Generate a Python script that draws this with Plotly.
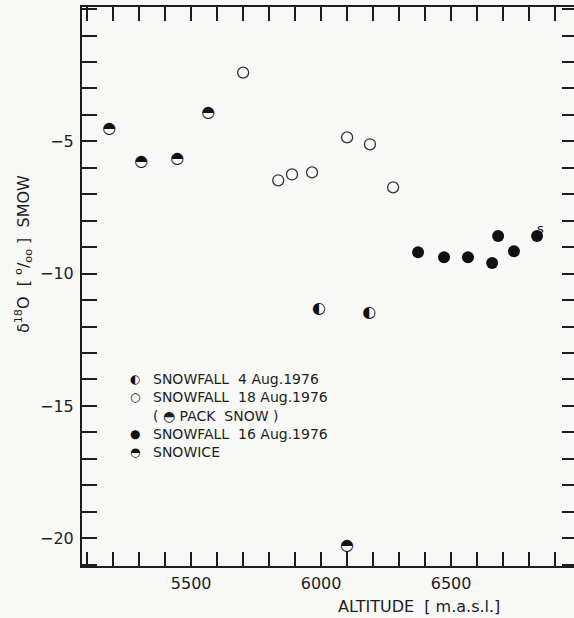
import plotly.graph_objects as go

# ---- data ----
pack_snow_alt = [5185, 5308, 5446, 5566]
pack_snow_d18o = [-4.55, -5.79, -5.65, -3.94]

aug18_alt = [5700, 5835, 5888, 5965, 6100, 6188, 6277]
aug18_d18o = [-2.4, -6.47, -6.25, -6.17, -4.85, -5.11, -6.74]

aug4_alt = [5992, 6185]
aug4_d18o = [-11.34, -11.49]

aug16_alt = [6373, 6473, 6565, 6658, 6681, 6742, 6831]
aug16_d18o = [-9.19, -9.38, -9.38, -9.6, -8.58, -9.15, -8.58]
aug16_mark_label = "s"   # label on the highest-altitude 16 Aug sample

snowice_alt = [6100]
snowice_d18o = [-20.3]

legend_symbols = ["◐", "○", "", "●", "◓"]
legend_texts = ["SNOWFALL  4 Aug.1976", "SNOWFALL  18 Aug.1976",
                "( ◓ PACK  SNOW )", "SNOWFALL  16 Aug.1976", "SNOWICE"]

FONT = "DejaVu Sans"
INK = "#1e1e1e"
BG = "#f8f9f7"

fig = go.Figure()

fig.add_trace(go.Scatter(x=aug18_alt, y=aug18_d18o, mode="markers",
                         marker=dict(symbol="circle-open", size=11, color="#333",
                                     line=dict(width=1.3, color="#333")),
                         hoverinfo="skip", showlegend=False))
fig.add_trace(go.Scatter(x=aug16_alt, y=aug16_d18o, mode="markers",
                         marker=dict(symbol="circle", size=12, color="#111"),
                         hoverinfo="skip", showlegend=False))
fig.add_trace(go.Scatter(x=aug16_alt[-1:], y=aug16_d18o[-1:], mode="text",
                         text=[aug16_mark_label], textposition="top right",
                         textfont=dict(family=FONT, size=13, color="#111"),
                         hoverinfo="skip", showlegend=False))
for xs, ys, glyph in [(pack_snow_alt, pack_snow_d18o, "◓"),
                      (snowice_alt, snowice_d18o, "◓"),
                      (aug4_alt, aug4_d18o, "◐")]:
    fig.add_trace(go.Scatter(x=xs, y=ys, mode="text", text=[glyph] * len(xs),
                             textposition="middle center",
                             textfont=dict(family=FONT, size=16, color="#111"),
                             hoverinfo="skip", showlegend=False))
# right-hand tick axis carrier (invisible)
fig.add_trace(go.Scatter(x=aug16_alt, y=aug16_d18o, mode="markers", yaxis="y2",
                         marker=dict(opacity=0), hoverinfo="skip", showlegend=False))

yr = [-21.05, 0.08]
fig.update_layout(
    width=574, height=618,
    margin=dict(l=82, r=0, t=7, b=52),
    paper_bgcolor=BG, plot_bgcolor=BG,
    font=dict(family=FONT, size=16, color=INK),
    xaxis=dict(range=[5080, 6973], showgrid=False, zeroline=False, automargin=False,
               showline=True, linewidth=2, linecolor=INK, mirror="ticks",
               ticks="inside", ticklen=14, tickwidth=1.6, tickcolor=INK,
               tick0=0, dtick=500, ticklabelstandoff=2,
               minor=dict(dtick=100, ticks="inside", ticklen=14, tickwidth=1.6,
                          tickcolor=INK, showgrid=False)),
    yaxis=dict(range=yr, showgrid=False, zeroline=False, automargin=False,
               showline=True, linewidth=2, linecolor=INK,
               ticks="inside", ticklen=15, tickwidth=1.6, tickcolor=INK,
               tick0=0, dtick=5, ticklabelstandoff=3,
               minor=dict(dtick=1, ticks="inside", ticklen=15, tickwidth=1.6,
                          tickcolor=INK, showgrid=False)),
    yaxis2=dict(range=yr, overlaying="y", side="right", showgrid=False, automargin=False,
                zeroline=False, showline=False, showticklabels=False,
                ticks="inside", ticklen=12, tickwidth=1.6, tickcolor=INK,
                tick0=0, dtick=1),
)

annotations = [
    dict(text="δ<sup>18</sup>O  [ <sup>o</sup>/<sub>oo</sub> ]  SMOW", textangle=-90,
         xref="paper", yref="paper", x=0, y=0.558, xshift=-59,
         xanchor="center", yanchor="middle", showarrow=False,
         font=dict(family=FONT, size=16, color=INK)),
    dict(text="ALTITUDE  [ m.a.s.l.]", xref="paper", yref="paper",
         x=0.685, y=0, yshift=-40, xanchor="center", yanchor="middle",
         showarrow=False, font=dict(family=FONT, size=16, color=INK)),
]
row_y = [0.3345, 0.3023, 0.2683, 0.2361, 0.2039]
for sym, txt, yy in zip(legend_symbols, legend_texts, row_y):
    if sym:
        annotations.append(dict(text=sym, xref="paper", yref="paper", x=0.1077, y=yy,
                                xanchor="center", yanchor="middle", showarrow=False,
                                font=dict(family=FONT, size=12, color="#111")))
    annotations.append(dict(text=txt, xref="paper", yref="paper", x=0.1410, y=yy,
                            xanchor="left", yanchor="middle", showarrow=False,
                            font=dict(family=FONT, size=14, color=INK)))
fig.update_layout(annotations=annotations)

fig.write_html("out.html", config={"displayModeBar": False},
               post_script="document.body.style.margin='0';document.body.style.background='%s';" % BG)
